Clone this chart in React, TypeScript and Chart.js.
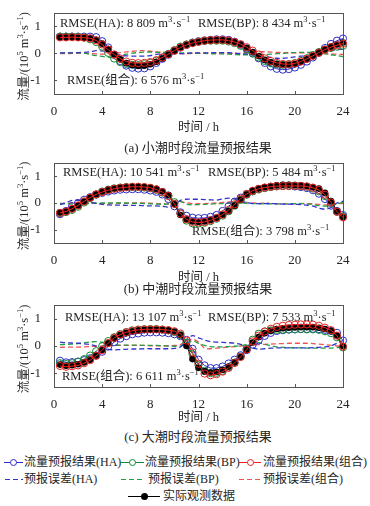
import React, { useEffect, useRef } from "react";
import { Chart, registerables } from "chart.js";

Chart.register(...registerables);

const FONT = '"Liberation Serif", "Times New Roman", "Noto Sans CJK SC", serif';

// ---- data ----
const HOURS = [0.5, 1, 1.5, 2, 2.5, 3, 3.5, 4, 4.5, 5, 5.5, 6, 6.5, 7, 7.5, 8, 8.5, 9, 9.5, 10,
  10.5, 11, 11.5, 12, 12.5, 13, 13.5, 14, 14.5, 15, 15.5, 16, 16.5, 17, 17.5, 18, 18.5, 19, 19.5, 20,
  20.5, 21, 21.5, 22, 22.5, 23, 23.5, 24];
const X_TICKS = [0, 4, 8, 12, 16, 20, 24];
const Y_TICKS = [-1, 0, 1];

// (a) neap tide
const ACT_A = [0.60, 0.60, 0.60, 0.59, 0.58, 0.56, 0.50, 0.36, 0.16, -0.04, -0.22, -0.36, -0.43, -0.46, -0.45, -0.40, -0.31, -0.19, -0.05, 0.10, 0.23, 0.32, 0.38, 0.43, 0.46, 0.48, 0.49, 0.49, 0.47, 0.42, 0.33, 0.20, 0.05, -0.10, -0.24, -0.33, -0.39, -0.42, -0.42, -0.39, -0.32, -0.22, -0.10, 0.03, 0.15, 0.25, 0.33, 0.40];
const HA_A = [0.62, 0.62, 0.62, 0.62, 0.62, 0.62, 0.60, 0.45, 0.22, -0.05, -0.28, -0.45, -0.53, -0.56, -0.55, -0.48, -0.35, -0.20, -0.05, 0.10, 0.22, 0.32, 0.40, 0.45, 0.48, 0.50, 0.52, 0.52, 0.50, 0.43, 0.32, 0.18, 0.00, -0.18, -0.35, -0.48, -0.57, -0.60, -0.58, -0.52, -0.42, -0.30, -0.15, 0.02, 0.20, 0.35, 0.47, 0.55];
const BP_A = [0.62, 0.62, 0.62, 0.61, 0.59, 0.52, 0.42, 0.25, 0.02, -0.19, -0.32, -0.39, -0.42, -0.43, -0.40, -0.35, -0.27, -0.15, -0.02, 0.12, 0.25, 0.33, 0.39, 0.43, 0.46, 0.47, 0.47, 0.47, 0.44, 0.38, 0.28, 0.15, 0.00, -0.15, -0.28, -0.36, -0.40, -0.42, -0.40, -0.36, -0.28, -0.18, -0.06, 0.05, 0.14, 0.20, 0.25, 0.28];
const CO_A = [0.59, 0.59, 0.60, 0.59, 0.58, 0.56, 0.48, 0.33, 0.14, -0.04, -0.19, -0.30, -0.35, -0.36, -0.35, -0.32, -0.25, -0.15, -0.03, 0.10, 0.22, 0.31, 0.38, 0.43, 0.47, 0.49, 0.50, 0.50, 0.47, 0.42, 0.34, 0.23, 0.10, -0.04, -0.18, -0.28, -0.35, -0.39, -0.40, -0.37, -0.30, -0.20, -0.09, 0.03, 0.14, 0.23, 0.30, 0.36];
const EHA_A = [0.02, 0.02, 0.02, 0.03, 0.04, 0.06, 0.10, 0.09, 0.06, -0.01, -0.06, -0.09, -0.10, -0.10, -0.10, -0.08, -0.04, -0.01, 0.00, 0.00, -0.01, 0.00, 0.02, 0.02, 0.02, 0.02, 0.03, 0.03, 0.03, 0.01, -0.01, -0.02, -0.05, -0.08, -0.11, -0.15, -0.18, -0.18, -0.16, -0.13, -0.10, -0.08, -0.05, -0.01, 0.05, 0.10, 0.14, 0.15];
const EBP_A = [0.02, 0.02, 0.02, 0.02, 0.01, -0.04, -0.08, -0.11, -0.14, -0.15, -0.10, -0.03, 0.01, 0.03, 0.05, 0.05, 0.04, 0.04, 0.03, 0.02, 0.02, 0.01, 0.01, 0.00, 0.00, -0.01, -0.02, -0.02, -0.03, -0.04, -0.05, -0.05, -0.05, -0.05, -0.04, -0.03, -0.01, 0.00, 0.02, 0.03, 0.04, 0.04, 0.04, 0.02, -0.01, -0.05, -0.08, -0.12];
const ECO_A = [-0.01, -0.01, 0.00, 0.00, 0.00, 0.00, -0.02, -0.03, -0.02, 0.00, 0.03, 0.06, 0.08, 0.10, 0.10, 0.08, 0.06, 0.04, 0.02, 0.00, -0.01, -0.01, 0.00, 0.00, 0.01, 0.01, 0.01, 0.01, 0.00, 0.00, 0.01, 0.03, 0.05, 0.06, 0.06, 0.05, 0.04, 0.03, 0.02, 0.02, 0.02, 0.02, 0.01, 0.00, -0.01, -0.02, -0.03, -0.04];

// (b) medium tide
const ACT_B = [-0.36, -0.31, -0.22, -0.10, 0.05, 0.20, 0.33, 0.43, 0.50, 0.55, 0.58, 0.60, 0.61, 0.61, 0.60, 0.58, 0.53, 0.44, 0.30, -0.05, -0.45, -0.62, -0.69, -0.71, -0.69, -0.64, -0.56, -0.45, -0.30, -0.10, 0.12, 0.32, 0.46, 0.54, 0.59, 0.63, 0.66, 0.68, 0.68, 0.67, 0.66, 0.64, 0.60, 0.54, 0.38, 0.07, -0.30, -0.52];
const HA_B = [-0.42, -0.30, -0.12, 0.00, 0.12, 0.22, 0.32, 0.38, 0.43, 0.47, 0.50, 0.51, 0.52, 0.52, 0.50, 0.47, 0.42, 0.32, 0.15, -0.12, -0.35, -0.48, -0.55, -0.57, -0.56, -0.52, -0.45, -0.30, -0.12, 0.05, 0.20, 0.33, 0.44, 0.52, 0.57, 0.61, 0.63, 0.64, 0.64, 0.62, 0.60, 0.56, 0.48, 0.35, 0.15, -0.10, -0.30, -0.45];
const BP_B = [-0.38, -0.34, -0.26, -0.14, 0.02, 0.18, 0.32, 0.43, 0.50, 0.55, 0.58, 0.60, 0.60, 0.60, 0.58, 0.55, 0.49, 0.39, 0.28, 0.03, -0.39, -0.66, -0.76, -0.77, -0.74, -0.68, -0.59, -0.47, -0.31, -0.10, 0.12, 0.31, 0.44, 0.51, 0.56, 0.60, 0.63, 0.65, 0.65, 0.65, 0.64, 0.61, 0.54, 0.44, 0.26, -0.01, -0.33, -0.50];
const CO_B = [-0.37, -0.32, -0.22, -0.09, 0.06, 0.20, 0.32, 0.41, 0.48, 0.53, 0.57, 0.59, 0.61, 0.61, 0.60, 0.57, 0.51, 0.41, 0.26, -0.03, -0.40, -0.61, -0.71, -0.73, -0.71, -0.65, -0.56, -0.43, -0.26, -0.05, 0.16, 0.34, 0.46, 0.53, 0.58, 0.61, 0.63, 0.64, 0.64, 0.64, 0.64, 0.62, 0.57, 0.49, 0.31, 0.02, -0.33, -0.54];
const EHA_B = [-0.06, 0.01, 0.10, 0.10, 0.07, 0.02, -0.01, -0.05, -0.07, -0.08, -0.08, -0.09, -0.09, -0.09, -0.10, -0.11, -0.11, -0.12, -0.15, -0.07, 0.10, 0.14, 0.14, 0.14, 0.13, 0.12, 0.11, 0.15, 0.18, 0.15, 0.08, 0.01, -0.02, -0.02, -0.02, -0.02, -0.03, -0.04, -0.04, -0.05, -0.06, -0.08, -0.12, -0.19, -0.23, -0.17, 0.00, 0.07];
const EBP_B = [-0.02, -0.03, -0.04, -0.04, -0.03, -0.02, -0.01, 0.00, 0.00, 0.00, 0.00, 0.00, -0.01, -0.01, -0.02, -0.03, -0.04, -0.05, -0.02, 0.08, 0.06, -0.04, -0.07, -0.06, -0.05, -0.04, -0.03, -0.02, -0.01, 0.00, 0.00, -0.01, -0.02, -0.03, -0.03, -0.03, -0.03, -0.03, -0.03, -0.02, -0.02, -0.03, -0.06, -0.10, -0.12, -0.08, -0.03, 0.02];
const ECO_B = [-0.01, -0.01, 0.00, 0.01, 0.01, 0.00, -0.01, -0.02, -0.02, -0.02, -0.01, -0.01, 0.00, 0.00, 0.00, -0.01, -0.02, -0.03, -0.04, 0.02, 0.05, 0.01, -0.02, -0.02, -0.02, -0.01, 0.00, 0.02, 0.04, 0.05, 0.04, 0.02, 0.00, -0.01, -0.01, -0.02, -0.03, -0.04, -0.04, -0.03, -0.02, -0.02, -0.03, -0.05, -0.07, -0.05, -0.03, -0.02];

// (c) spring tide
const ACT_C = [-0.68, -0.72, -0.70, -0.67, -0.60, -0.50, -0.35, -0.15, 0.10, 0.28, 0.40, 0.48, 0.54, 0.57, 0.59, 0.60, 0.60, 0.59, 0.57, 0.52, 0.40, 0.00, -0.48, -0.80, -0.93, -0.97, -0.95, -0.88, -0.76, -0.60, -0.40, -0.15, 0.13, 0.33, 0.47, 0.56, 0.62, 0.65, 0.67, 0.68, 0.69, 0.69, 0.69, 0.67, 0.62, 0.55, 0.38, 0.00];
const HA_C = [-0.54, -0.60, -0.59, -0.57, -0.52, -0.45, -0.35, -0.21, -0.02, 0.14, 0.27, 0.36, 0.43, 0.46, 0.49, 0.50, 0.50, 0.49, 0.47, 0.43, 0.36, 0.22, -0.10, -0.50, -0.71, -0.81, -0.81, -0.75, -0.64, -0.50, -0.34, -0.15, 0.05, 0.21, 0.37, 0.48, 0.55, 0.58, 0.60, 0.61, 0.62, 0.62, 0.63, 0.62, 0.59, 0.55, 0.48, 0.20];
const BP_C = [-0.63, -0.66, -0.63, -0.58, -0.48, -0.35, -0.19, -0.01, 0.18, 0.32, 0.43, 0.51, 0.57, 0.60, 0.61, 0.62, 0.62, 0.60, 0.57, 0.51, 0.40, 0.12, -0.30, -0.70, -0.91, -0.99, -0.98, -0.91, -0.78, -0.61, -0.39, -0.10, 0.23, 0.45, 0.53, 0.57, 0.59, 0.60, 0.61, 0.61, 0.62, 0.61, 0.61, 0.59, 0.54, 0.47, 0.32, -0.05];
const CO_C = [-0.73, -0.76, -0.74, -0.71, -0.63, -0.52, -0.36, -0.15, 0.11, 0.30, 0.42, 0.50, 0.56, 0.59, 0.61, 0.61, 0.61, 0.60, 0.58, 0.54, 0.45, 0.20, -0.23, -0.65, -1.01, -1.07, -1.03, -0.94, -0.80, -0.62, -0.40, -0.13, 0.17, 0.38, 0.53, 0.63, 0.70, 0.74, 0.77, 0.78, 0.79, 0.79, 0.78, 0.74, 0.67, 0.58, 0.38, -0.02];
const EHA_C = [0.14, 0.12, 0.11, 0.10, 0.08, 0.05, 0.00, -0.06, -0.12, -0.14, -0.13, -0.12, -0.11, -0.11, -0.10, -0.10, -0.10, -0.10, -0.10, -0.09, -0.04, 0.22, 0.38, 0.30, 0.22, 0.16, 0.14, 0.13, 0.12, 0.10, 0.06, 0.00, -0.08, -0.12, -0.10, -0.08, -0.07, -0.07, -0.07, -0.07, -0.07, -0.07, -0.06, -0.05, -0.03, 0.00, 0.10, 0.20];
const EBP_C = [0.05, 0.06, 0.07, 0.09, 0.12, 0.15, 0.16, 0.14, 0.08, 0.04, 0.03, 0.03, 0.03, 0.03, 0.02, 0.02, 0.02, 0.01, 0.00, -0.01, 0.00, 0.12, 0.18, 0.10, 0.02, -0.02, -0.03, -0.03, -0.02, -0.01, 0.01, 0.05, 0.10, 0.12, 0.06, 0.01, -0.03, -0.05, -0.06, -0.07, -0.07, -0.08, -0.08, -0.08, -0.08, -0.08, -0.06, -0.05];
const ECO_C = [-0.05, -0.04, -0.04, -0.04, -0.03, -0.02, -0.01, 0.00, 0.01, 0.02, 0.02, 0.02, 0.02, 0.02, 0.02, 0.01, 0.01, 0.01, 0.01, 0.02, 0.05, 0.20, 0.25, 0.15, -0.08, -0.10, -0.08, -0.06, -0.04, -0.02, 0.00, 0.02, 0.04, 0.05, 0.06, 0.07, 0.08, 0.09, 0.10, 0.10, 0.10, 0.10, 0.09, 0.07, 0.05, 0.03, 0.00, -0.02];

const RMSE_A = ["8 809", "8 434", "6 576"];
const RMSE_B = ["10 541", "5 484", "3 798"];
const RMSE_C = ["13 107", "7 533", "6 611"];

const X_TITLE = "时间 / h";
const Y_TITLE = "流量/(10^{5} m^{3}·s^{−1})";
const CAPTIONS = ["(a) 小潮时段流量预报结果", "(b) 中潮时段流量预报结果", "(c) 大潮时段流量预报结果"];
const SERIES_NAMES = ["流量预报结果(HA)", "流量预报结果(BP)", "流量预报结果(组合)", "预报误差(HA)", "预报误差(BP)", "预报误差(组合)", "实际观测数据"];

// ---- styles ----
const C_BLUE = "#2c2cc8";
const C_GREEN = "#128a34";
const C_RED = "#ee2020";
const C_EBLUE = "#3333cc";
const C_EGREEN = "#22a044";
const C_ERED = "#f05555";
const TXT = "#262626";

function parseRich(s: string) {
  const out: { t: string; sup: boolean }[] = [];
  const re = /\^\{([^}]*)\}/g;
  let last = 0;
  let m: RegExpExecArray | null;
  while ((m = re.exec(s))) {
    if (m.index > last) out.push({ t: s.slice(last, m.index), sup: false });
    out.push({ t: m[1], sup: true });
    last = re.lastIndex;
  }
  if (last < s.length) out.push({ t: s.slice(last), sup: false });
  return out;
}

function richWidth(ctx: CanvasRenderingContext2D, s: string, size: number) {
  let w = 0;
  for (const p of parseRich(s)) {
    ctx.font = `${p.sup ? size * 0.68 : size}px ${FONT}`;
    w += ctx.measureText(p.t).width;
  }
  return w;
}

function drawRich(ctx: CanvasRenderingContext2D, s: string, x: number, y: number, size: number) {
  let cx = x;
  ctx.textBaseline = "middle";
  ctx.textAlign = "left";
  for (const p of parseRich(s)) {
    const fs = p.sup ? size * 0.68 : size;
    ctx.font = `${fs}px ${FONT}`;
    ctx.fillText(p.t, cx, p.sup ? y - size * 0.36 : y);
    cx += ctx.measureText(p.t).width;
  }
}

type Label = { text: string; x: number; y: number };
type PanelCfg = {
  top: number;
  height: number;
  areaTop: number;
  areaBottom: number;
  titlePad: number;
  act: number[];
  ha: number[];
  bp: number[];
  co: number[];
  eha: number[];
  ebp: number[];
  eco: number[];
  labels: Label[];
};

const AREA_LEFT = 54;
const AREA_RIGHT = 343;
const W = 370;

function makeLabels(r: string[], pos: number[][]): Label[] {
  return [
    { text: `RMSE(HA): ${r[0]} m^{3}·s^{−1}`, x: pos[0][0], y: pos[0][1] },
    { text: `RMSE(BP): ${r[1]} m^{3}·s^{−1}`, x: pos[1][0], y: pos[1][1] },
    { text: `RMSE(组合): ${r[2]} m^{3}·s^{−1}`, x: pos[2][0], y: pos[2][1] },
  ];
}

const PANELS: PanelCfg[] = [
  {
    top: 0, height: 135, areaTop: 11, areaBottom: 94, titlePad: 3,
    act: ACT_A, ha: HA_A, bp: BP_A, co: CO_A, eha: EHA_A, ebp: EBP_A, eco: ECO_A,
    labels: makeLabels(RMSE_A, [[60, 24], [198, 24], [67, 81]]),
  },
  {
    top: 150, height: 135, areaTop: 13, areaBottom: 93, titlePad: 6,
    act: ACT_B, ha: HA_B, bp: BP_B, co: CO_B, eha: EHA_B, ebp: EBP_B, eco: ECO_B,
    labels: makeLabels(RMSE_B, [[63, 23], [208, 23], [192, 82]]),
  },
  {
    top: 290, height: 135, areaTop: 15, areaBottom: 97, titlePad: 2,
    act: ACT_C, ha: HA_C, bp: BP_C, co: CO_C, eha: EHA_C, ebp: EBP_C, eco: ECO_C,
    labels: makeLabels(RMSE_C, [[65, 28], [208, 28], [62, 87]]),
  },
];

function pts(ys: number[]) {
  return HOURS.map((x, i) => ({ x, y: ys[i] }));
}

function Panel({ cfg }: { cfg: PanelCfg }) {
  const ref = useRef<HTMLCanvasElement | null>(null);
  useEffect(() => {
    const canvas = ref.current;
    if (!canvas) return;
    const markerLine = (label: string, data: number[], color: string, order: number) => ({
      label,
      data: pts(data),
      borderColor: color,
      backgroundColor: "rgba(0,0,0,0)",
      borderWidth: 1,
      pointRadius: 3.6,
      pointBorderWidth: 1,
      pointBorderColor: color,
      pointBackgroundColor: "rgba(0,0,0,0)",
      pointStyle: "circle",
      tension: 0,
      clip: false as const,
      order,
    });
    const errLine = (label: string, data: number[], color: string, order: number) => ({
      label,
      data: pts(data),
      borderColor: color,
      borderWidth: 1.3,
      borderDash: [5, 3],
      pointRadius: 0,
      tension: 0.3,
      clip: false as const,
      order,
    });
    const decor = {
      id: "decor",
      afterDraw(chart: any) {
        const ctx: CanvasRenderingContext2D = chart.ctx;
        const a = chart.chartArea;
        const xs = chart.scales.x;
        const ys = chart.scales.y;
        ctx.save();
        ctx.strokeStyle = "#555";
        ctx.lineWidth = 1;
        ctx.beginPath();
        for (const v of X_TICKS) {
          const px = Math.round(xs.getPixelForValue(v)) + 0.5;
          ctx.moveTo(px, a.bottom);
          ctx.lineTo(px, a.bottom - 3);
        }
        for (const v of Y_TICKS) {
          const py = Math.round(ys.getPixelForValue(v)) + 0.5;
          ctx.moveTo(a.left, py);
          ctx.lineTo(a.left + 3, py);
        }
        ctx.stroke();
        ctx.strokeRect(Math.round(a.left) + 0.5, Math.round(a.top) + 0.5, Math.round(a.right - a.left), Math.round(a.bottom - a.top));
        ctx.fillStyle = TXT;
        for (const l of cfg.labels) drawRich(ctx, l.text, l.x, l.y, 12.5);
        // y title
        const size = 12.5;
        const w = richWidth(ctx, Y_TITLE, size);
        ctx.translate(25, (a.top + a.bottom) / 2 + 3);
        ctx.rotate(-Math.PI / 2);
        drawRich(ctx, Y_TITLE, -w / 2, 0, size);
        ctx.restore();
      },
    };
    const chart = new Chart(canvas, {
      type: "line",
      data: {
        datasets: [
          markerLine(SERIES_NAMES[0], cfg.ha, C_BLUE, 3),
          markerLine(SERIES_NAMES[1], cfg.bp, C_GREEN, 2),
          markerLine(SERIES_NAMES[2], cfg.co, C_RED, 0),
          errLine(SERIES_NAMES[3], cfg.eha, C_EBLUE, 4),
          errLine(SERIES_NAMES[4], cfg.ebp, C_EGREEN, 5),
          errLine(SERIES_NAMES[5], cfg.eco, C_ERED, 6),
          {
            label: SERIES_NAMES[6],
            data: pts(cfg.act),
            borderColor: "#000",
            backgroundColor: "#000",
            borderWidth: 1,
            pointRadius: 3.3,
            pointBorderWidth: 0,
            pointBackgroundColor: "#000",
            tension: 0,
            clip: false as const,
            order: 1,
          },
        ] as any,
      },
      options: {
        animation: false,
        responsive: false,
        maintainAspectRatio: false,
        events: [],
        layout: { padding: { left: 0, right: W - AREA_RIGHT, top: cfg.areaTop, bottom: 0 } },
        plugins: { legend: { display: false }, tooltip: { enabled: false }, title: { display: false } },
        scales: {
          x: {
            type: "linear",
            min: 0,
            max: 24,
            afterBuildTicks: (s: any) => { s.ticks = X_TICKS.map((v) => ({ value: v })); },
            afterFit: (s: any) => { s.height = cfg.height - cfg.areaBottom; },
            grid: { display: false },
            border: { display: false },
            ticks: { font: { family: FONT, size: 13 }, color: TXT, padding: 2, maxRotation: 0, autoSkip: false },
            title: { display: true, text: X_TITLE, font: { family: FONT, size: 12.5 }, color: TXT, padding: { top: cfg.titlePad, bottom: 0 } },
          },
          y: {
            type: "linear",
            min: -1.5,
            max: 1.5,
            afterBuildTicks: (s: any) => { s.ticks = Y_TICKS.map((v) => ({ value: v })); },
            afterFit: (s: any) => { s.width = AREA_LEFT; },
            grid: { display: false },
            border: { display: false },
            ticks: { font: { family: FONT, size: 13 }, color: TXT, padding: 5 },
          },
        },
      } as any,
      plugins: [decor],
    });
    return () => chart.destroy();
  }, [cfg]);
  return (
    <canvas
      ref={ref}
      width={W}
      height={cfg.height}
      style={{ position: "absolute", left: 0, top: cfg.top, width: W, height: cfg.height }}
    />
  );
}

const legendText: React.CSSProperties = {
  position: "absolute",
  fontFamily: FONT,
  fontSize: 12,
  color: TXT,
  lineHeight: "14px",
  whiteSpace: "nowrap",
};

function MarkerSym({ x, y, w, color, filled }: { x: number; y: number; w: number; color: string; filled?: boolean }) {
  return (
    <>
      <div style={{ position: "absolute", left: x, top: y, width: w, height: 0, borderTop: `1px solid ${color}` }} />
      <div
        style={{
          position: "absolute",
          left: x + w / 2 - 3.5,
          top: y - 3,
          width: filled ? 7 : 5,
          height: filled ? 7 : 5,
          borderRadius: "50%",
          border: filled ? "none" : `1px solid ${color}`,
          background: filled ? color : "#fff",
        }}
      />
    </>
  );
}

function DashSym({ x, y, w, color }: { x: number; y: number; w: number; color: string }) {
  return (
    <div
      style={{
        position: "absolute",
        left: x,
        top: y,
        width: w,
        height: 1.3,
        backgroundImage: `repeating-linear-gradient(to right, ${color} 0 5px, transparent 5px 8px)`,
      }}
    />
  );
}

export default function App() {
  const capY = [148, 289, 437];
  return (
    <div style={{ position: "fixed", left: 0, top: 0, width: W, height: 506, background: "#fff", overflow: "hidden" }}>
      {PANELS.map((p, i) => (
        <Panel key={i} cfg={p} />
      ))}
      {CAPTIONS.map((c, i) => (
        <div
          key={c}
          style={{
            position: "absolute",
            left: 0,
            width: 2 * 198,
            top: capY[i] - 8,
            textAlign: "center",
            fontFamily: FONT,
            fontSize: 13,
            lineHeight: "16px",
            color: TXT,
          }}
        >
          {c}
        </div>
      ))}
      {/* legend row 1 */}
      <MarkerSym x={4} y={462} w={19} color={C_BLUE} />
      <div style={{ ...legendText, left: 24, top: 455 }}>{SERIES_NAMES[0]}</div>
      <MarkerSym x={120} y={462} w={24} color={C_GREEN} />
      <div style={{ ...legendText, left: 145, top: 455 }}>{SERIES_NAMES[1]}</div>
      <MarkerSym x={239} y={462} w={22} color={C_RED} />
      <div style={{ ...legendText, left: 263, top: 455 }}>{SERIES_NAMES[2]}</div>
      {/* legend row 2 */}
      <DashSym x={5} y={479} w={18} color={C_EBLUE} />
      <div style={{ ...legendText, left: 24, top: 472 }}>{SERIES_NAMES[3]}</div>
      <DashSym x={121} y={479} w={24} color={C_EGREEN} />
      <div style={{ ...legendText, left: 148, top: 472 }}>{SERIES_NAMES[4]}</div>
      <DashSym x={239} y={479} w={22} color={C_ERED} />
      <div style={{ ...legendText, left: 263, top: 472 }}>{SERIES_NAMES[5]}</div>
      {/* legend row 3 */}
      <MarkerSym x={128} y={496} w={32} color="#000" filled />
      <div style={{ ...legendText, left: 163, top: 489 }}>{SERIES_NAMES[6]}</div>
    </div>
  );
}
